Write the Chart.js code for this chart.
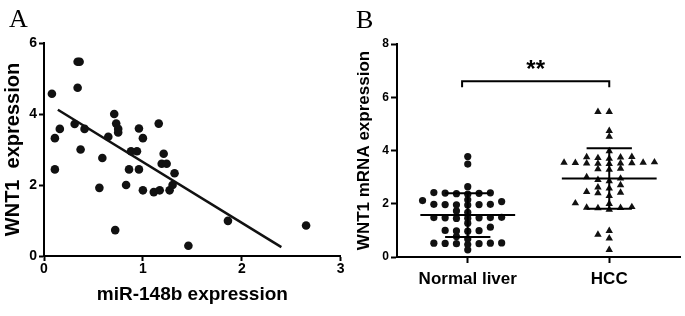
<!DOCTYPE html>
<html>
<head>
<meta charset="utf-8">
<script src="https://cdn.jsdelivr.net/npm/chart.js@4.4.1/dist/chart.umd.min.js"></script>
<style>
    html, body { margin: 0; padding: 0; background: #fff; }
    #wrap { position: relative; width: 685px; height: 316px; overflow: hidden; }
    .box { position: absolute; top: 0; height: 316px; }
    #boxA { left: 0; width: 345px; }
    #boxB { left: 340px; width: 345px; }
</style>
</head>
<body>
<div id="wrap">
    <div class="box" id="boxA"><canvas id="chartA"></canvas></div>
    <div class="box" id="boxB"><canvas id="chartB"></canvas></div>
</div>
<script>
// ---- panel A: miR-148b vs WNT1 ----
const mirX = [0.08, 0.11, 0.16, 0.11, 0.34, 0.36, 0.34, 0.31, 0.41, 0.37,
              0.59, 0.56, 0.72, 0.65, 0.71, 0.73, 0.75, 0.75, 0.96, 1.00,
              1.16, 1.21, 0.88, 0.94, 0.86, 0.96, 0.83, 1.00, 1.11, 1.17,
              1.27, 1.30, 1.32, 1.19, 1.24, 1.46, 1.86, 2.65];
const wntY = [4.57, 3.32, 3.58, 2.44, 5.47, 5.47, 4.74, 3.72, 3.58, 3.00,
              2.76, 1.92, 0.73, 3.36, 4.00, 3.73, 3.58, 3.48, 3.59, 3.32,
              3.73, 2.88, 2.95, 2.95, 2.44, 2.44, 2.00, 1.85, 1.80, 1.85,
              1.85, 2.00, 2.33, 2.60, 2.60, 0.29, 0.99, 0.86];
const regX = [0.14, 2.40];
const regY = [4.12, 0.25];
const aXTicks = [0, 1, 2, 3];
const aYTicks = [0, 2, 4, 6];

// ---- panel B: WNT1 mRNA, two groups ----
const groups = ["Normal liver", "HCC"];
const normalVals = [3.77, 3.49, 2.64,
                    2.42, 2.40, 2.38, 2.41, 2.39, 2.36,
                    2.15, 2.12, 2.08,
                    1.98, 1.97, 1.96, 1.98, 1.95, 1.97,
                    1.73, 1.68,
                    1.48, 1.47, 1.46, 1.49, 1.45, 1.48, 1.47,
                    1.27, 1.12, 0.99, 0.97, 1.00, 0.98,
                    0.77, 0.68,
                    0.52, 0.51, 0.50, 0.53, 0.52, 0.50, 0.47,
                    0.27];
const hccVals = [5.45, 5.45, 4.74, 4.52, 3.98,
                 3.75, 3.72, 3.74, 3.70, 3.76,
                 3.55, 3.52, 3.55, 3.50, 3.53, 3.56, 3.54, 3.51, 3.52,
                 3.30, 3.28, 3.32,
                 3.00, 2.95, 2.85, 2.90,
                 2.70, 2.62, 2.58,
                 2.42, 2.45, 2.40, 2.30,
                 2.02, 2.00,
                 1.88, 1.85, 1.86, 1.84, 1.78,
                 0.98, 0.84, 0.70, 0.27];
const bYTicks = [0, 2, 4, 6, 8];
const bracketX = [0.96, 2.0];
const bracketY = 6.6;
const starText = "**";

const FONT = "'Liberation Sans', Arial, sans-serif";
Chart.defaults.font.family = FONT;
Chart.defaults.color = "#000";

// column-scatter spreading (Prism style), in pixels of panel B
const X_PX = 141.5, Y_PX = 26.67, SLOT_PX = 11.3, MIN_DIST = 5;

function swarm(values, center) {
    const placed = [];
    const sorted = values.slice().sort((a, b) => a - b);
    for (const v of sorted) {
        for (let k = 0; k < 40; k++) {
            const slot = k === 0 ? 0 : (k % 2 ? -Math.ceil(k / 2) : k / 2);
            const clash = placed.some(p => {
                const dx = (p.slot - slot) * SLOT_PX;
                const dy = (p.v - v) * Y_PX;
                return dx * dx + dy * dy < MIN_DIST * MIN_DIST;
            });
            if (!clash) { placed.push({ slot, v }); break; }
        }
    }
    return placed.map(p => ({ x: center + p.slot * SLOT_PX / X_PX, y: p.v }));
}

function meanSd(vals) {
    const m = vals.reduce((a, b) => a + b, 0) / vals.length;
    const s = Math.sqrt(vals.reduce((a, b) => a + (b - m) ** 2, 0) / (vals.length - 1));
    return [m, s];
}

function panelLetter(letter, x, y) {
    return {
        id: "letter" + letter,
        afterDraw(chart) {
            const ctx = chart.ctx;
            ctx.save();
            ctx.fillStyle = "#000";
            ctx.font = "26px 'Liberation Serif', 'Times New Roman', serif";
            ctx.textBaseline = "alphabetic";
            ctx.fillText(letter, x, y);
            ctx.restore();
        }
    };
}

function axisOpts(extra) {
    return Object.assign({
        grid: { drawOnChartArea: false, drawTicks: true, tickLength: 5,
                tickWidth: 2, tickColor: "#000" },
        border: { display: true, color: "#000", width: 2 },
    }, extra);
}

// ---- chart A ----
new Chart(document.getElementById("chartA"), {
    type: "scatter",
    data: {
        datasets: [{
            data: mirX.map((x, i) => ({ x, y: wntY[i] })),
            pointRadius: 4.3, backgroundColor: "#111", borderWidth: 0,
        }, {
            type: "line",
            data: regX.map((x, i) => ({ x, y: regY[i] })),
            borderColor: "#111", borderWidth: 2.5, pointRadius: 0, fill: false,
        }],
    },
    options: {
        responsive: true, maintainAspectRatio: false, animation: false,
        layout: { padding: { left: 0, top: 43, right: 4, bottom: 0 } },
        plugins: { legend: { display: false }, tooltip: { enabled: false } },
        scales: {
            x: axisOpts({
                type: "linear", min: 0, max: 3,
                afterBuildTicks: s => { s.ticks = aXTicks.map(v => ({ value: v })); },
                afterFit: s => { s.height = 60; },
                ticks: { font: { size: 14, weight: "bold" }, padding: 0 },
                title: { display: true, text: "miR-148b expression",
                         font: { size: 19, weight: "bold" },
                         padding: { top: 0, bottom: 10 } },
            }),
            y: axisOpts({
                type: "linear", min: 0, max: 6,
                afterBuildTicks: s => { s.ticks = aYTicks.map(v => ({ value: v })); },
                afterFit: s => { s.width = 44; },
                ticks: { font: { size: 14, weight: "bold" }, padding: 2 },
                title: { display: true, text: "WNT1  expression",
                         font: { size: 20, weight: "bold" },
                         padding: { top: 1, bottom: 0 } },
            }),
        },
    },
    plugins: [panelLetter("A", 9, 27)],
});

// ---- chart B ----
const bPoints = [swarm(normalVals, 1), swarm(hccVals, 2)];
const bStats = [meanSd(normalVals), meanSd(hccVals)];

const statsPlugin = {
    id: "meanSd",
    afterDatasetsDraw(chart) {
        const { ctx, scales: { x, y } } = chart;
        ctx.save();
        ctx.strokeStyle = "#000";
        ctx.lineWidth = 2;
        bStats.forEach(([m, s], i) => {
            const cx = i + 1;
            const line = (x0, x1, v) => {
                ctx.beginPath();
                ctx.moveTo(x.getPixelForValue(x0), y.getPixelForValue(v));
                ctx.lineTo(x.getPixelForValue(x1), y.getPixelForValue(v));
                ctx.stroke();
            };
            line(cx - 0.335, cx + 0.335, m);
            line(cx - 0.16, cx + 0.16, m + s);
            line(cx - 0.16, cx + 0.16, m - s);
            ctx.beginPath();
            ctx.moveTo(x.getPixelForValue(cx), y.getPixelForValue(m - s));
            ctx.lineTo(x.getPixelForValue(cx), y.getPixelForValue(m + s));
            ctx.stroke();
        });
        // significance bracket
        const x1 = x.getPixelForValue(bracketX[0]);
        const x2 = x.getPixelForValue(bracketX[1]);
        const yy = y.getPixelForValue(bracketY);
        ctx.beginPath();
        ctx.moveTo(x1, yy + 6);
        ctx.lineTo(x1, yy);
        ctx.lineTo(x2, yy);
        ctx.lineTo(x2, yy + 6);
        ctx.stroke();
        ctx.fillStyle = "#000";
        ctx.font = "bold 24px " + FONT;
        ctx.textAlign = "center";
        ctx.textBaseline = "alphabetic";
        ctx.fillText(starText, (x1 + x2) / 2, yy - 4);
        ctx.restore();
    }
};

new Chart(document.getElementById("chartB"), {
    type: "scatter",
    data: {
        datasets: [{
            data: bPoints[0], pointStyle: "circle", pointRadius: 3.6,
            backgroundColor: "#111", borderWidth: 0,
        }, {
            data: bPoints[1], pointStyle: "triangle", pointRadius: 4.3,
            backgroundColor: "#111", borderWidth: 0,
        }],
    },
    options: {
        responsive: true, maintainAspectRatio: false, animation: false,
        layout: { padding: { left: 0, top: 44, right: 5, bottom: 0 } },
        plugins: { legend: { display: false }, tooltip: { enabled: false } },
        scales: {
            x: axisOpts({
                type: "linear", min: 0.5, max: 2.5,
                afterBuildTicks: s => { s.ticks = groups.map((g, i) => ({ value: i + 1 })); },
                afterFit: s => { s.height = 59; },
                grid: { drawOnChartArea: false, tickLength: 6, tickWidth: 2, tickColor: "#000" },
                ticks: { font: { size: 17, weight: "bold" }, padding: 6,
                         callback: v => groups[v - 1] },
            }),
            y: axisOpts({
                type: "linear", min: 0, max: 8,
                afterBuildTicks: s => { s.ticks = bYTicks.map(v => ({ value: v })); },
                afterFit: s => { s.width = 57; },
                grid: { drawOnChartArea: false, tickLength: 6, tickWidth: 2, tickColor: "#000" },
                ticks: { font: { size: 12, weight: "bold" }, padding: 2 },
                title: { display: true, text: "WNT1 mRNA expression",
                         font: { size: 17, weight: "bold" },
                         padding: { top: 14, bottom: 0 } },
            }),
        },
    },
    plugins: [statsPlugin, panelLetter("B", 16, 28)],
});
</script>
</body>
</html>
